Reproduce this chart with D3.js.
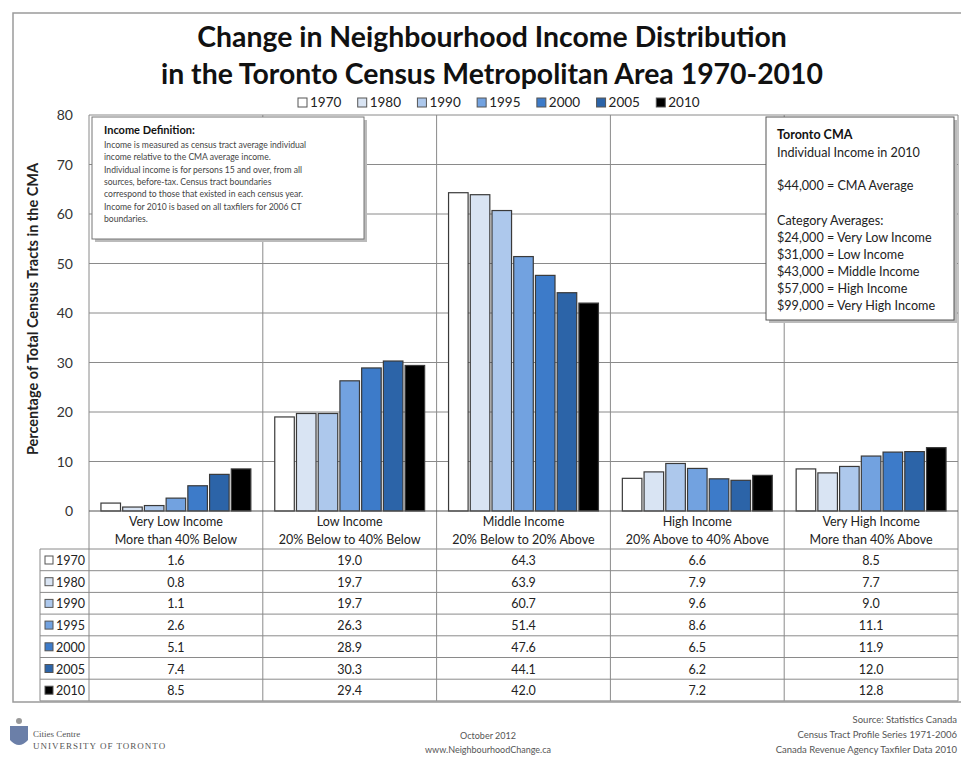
<!DOCTYPE html>
<html>
<head>
<meta charset="utf-8">
<title>Neighbourhood Income Distribution Toronto CMA</title>
<script src="https://d3js.org/d3.v7.min.js"></script>
<style>
  body { margin: 0; background: #fff; }
  svg { display: block; font-family: Lato, "Open Sans", sans-serif; }
  .grid line { stroke: #8a8a8a; stroke-width: 1; }
  .cell { font-size: 12.5px; fill: #222; }
</style>
</head>
<body>
<script>
// data
var years = ["1970", "1980", "1990", "1995", "2000", "2005", "2010"];
var categories = ["Very Low Income", "Low Income", "Middle Income", "High Income", "Very High Income"];
var subLabels = ["More than 40% Below", "20% Below to 40% Below", "20% Below to 20% Above",
                 "20% Above to 40% Above", "More than 40% Above"];
var v1970 = [1.6, 19.0, 64.3, 6.6, 8.5];
var v1980 = [0.8, 19.7, 63.9, 7.9, 7.7];
var v1990 = [1.1, 19.7, 60.7, 9.6, 9.0];
var v1995 = [2.6, 26.3, 51.4, 8.6, 11.1];
var v2000 = [5.1, 28.9, 47.6, 6.5, 11.9];
var v2005 = [7.4, 30.3, 44.1, 6.2, 12.0];
var v2010 = [8.5, 29.4, 42.0, 7.2, 12.8];
var yTicks = [0, 10, 20, 30, 40, 50, 60, 70, 80];
var colors = ["#ffffff", "#d9e4f3", "#adc8ec", "#72a2e0", "#3d7bc9", "#2c64a8", "#000000"];

var seriesVals = [v1970, v1980, v1990, v1995, v2000, v2005, v2010];
var series = years.map(function(y, i) { return {year: y, values: seriesVals[i], color: colors[i]}; });

var W = 961, H = 757;
var plot = {left: 89, right: 958, top: 115, bottom: 511};
var tableTop = 549, rowH = 21.7, tableLeft = 40;

var svg = d3.select("body").append("svg").attr("width", W).attr("height", H);

// frame
svg.append("rect").attr("x", 13).attr("y", 13).attr("width", W).attr("height", 689)
   .attr("fill", "none").attr("stroke", "#9a9a9a").attr("stroke-width", 1.5);

var x = d3.scaleBand().domain(categories).range([plot.left, plot.right]);
var xIn = d3.scaleBand().domain(years).range([0, x.bandwidth()]).paddingInner(0.1).paddingOuter(0.55);
var y = d3.scaleLinear().domain([0, 80]).range([plot.bottom, plot.top]);

// title
svg.append("text").attr("x", 492).attr("y", 47).attr("text-anchor", "middle")
   .attr("font-size", 28.4).attr("font-weight", "bold").attr("fill", "#111")
   .text("Change in Neighbourhood Income Distribution");
svg.append("text").attr("x", 492).attr("y", 84).attr("text-anchor", "middle")
   .attr("font-size", 28.4).attr("font-weight", "bold").attr("fill", "#111")
   .text("in the Toronto Census Metropolitan Area 1970-2010");

// legend
var lg = svg.append("g").attr("transform", "translate(298,107)");
var lgx = d3.scaleBand().domain(years).range([0, 418]);
lg.selectAll("g").data(series).join("g")
  .attr("transform", function(d) { return "translate(" + lgx(d.year) + ",0)"; })
  .each(function(d) {
    var g = d3.select(this);
    g.append("rect").attr("x", 0).attr("y", -9).attr("width", 9).attr("height", 9)
     .attr("fill", d.color).attr("stroke", "#555");
    g.append("text").attr("x", 12).attr("y", 0).attr("font-size", 13.5).attr("fill", "#222").text(d.year);
  });

// gridlines
var grid = svg.append("g").attr("class", "grid");
grid.selectAll("line.h").data(yTicks.slice(1)).join("line").attr("class", "h")
  .attr("x1", plot.left).attr("x2", plot.right)
  .attr("y1", function(d) { return y(d); }).attr("y2", function(d) { return y(d); });
var bounds = categories.map(function(c) { return x(c); }).concat([plot.right]);
grid.selectAll("line.v").data(bounds).join("line").attr("class", "v")
  .attr("x1", function(d) { return d; }).attr("x2", function(d) { return d; })
  .attr("y1", plot.top).attr("y2", tableTop + rowH * 7);

// y axis labels
svg.append("g").selectAll("text").data(yTicks).join("text")
  .attr("x", 73).attr("y", function(d) { return y(d) + 5; })
  .attr("text-anchor", "end").attr("font-size", 14).attr("fill", "#333")
  .text(function(d) { return d; });
svg.append("text").attr("transform", "translate(38,309) rotate(-90)")
  .attr("text-anchor", "middle").attr("font-size", 14.5).attr("font-weight", "bold").attr("fill", "#222")
  .text("Percentage of Total Census Tracts in the CMA");

// bars
svg.append("g").selectAll("g").data(series).join("g")
  .attr("fill", function(d) { return d.color; })
  .selectAll("rect").data(function(d) { return d.values.map(function(v, i) { return {cat: categories[i], year: d.year, v: v}; }); })
  .join("rect")
  .attr("x", function(d) { return x(d.cat) + xIn(d.year); })
  .attr("y", function(d) { return y(d.v); })
  .attr("width", xIn.bandwidth())
  .attr("height", function(d) { return y(0) - y(d.v); })
  .attr("stroke", "#3a3a3a").attr("stroke-width", 1.2);

// baseline
svg.append("line").attr("x1", plot.left).attr("x2", plot.right).attr("y1", plot.bottom).attr("y2", plot.bottom)
  .attr("stroke", "#555");

// category labels
var cl = svg.append("g").selectAll("g").data(categories).join("g")
  .attr("transform", function(d) { return "translate(" + (x(d) + x.bandwidth() / 2) + ",0)"; });
cl.append("text").attr("y", 526).attr("text-anchor", "middle").attr("class", "cell")
  .text(function(d) { return d; });
cl.append("text").attr("y", 544).attr("text-anchor", "middle").attr("class", "cell")
  .text(function(d, i) { return subLabels[i]; });

// data table
var tbl = svg.append("g");
tbl.selectAll("line").data(d3.range(8)).join("line")
  .attr("x1", tableLeft).attr("x2", plot.right)
  .attr("y1", function(d) { return tableTop + d * rowH; }).attr("y2", function(d) { return tableTop + d * rowH; })
  .attr("stroke", "#8a8a8a");
tbl.append("line").attr("x1", tableLeft).attr("x2", tableLeft).attr("y1", tableTop).attr("y2", tableTop + 7 * rowH)
  .attr("stroke", "#8a8a8a");

var rows = tbl.selectAll("g.row").data(series).join("g").attr("class", "row")
  .attr("transform", function(d, i) { return "translate(0," + (tableTop + i * rowH) + ")"; });
rows.append("rect").attr("x", 45).attr("y", 7).attr("width", 8).attr("height", 8)
  .attr("fill", function(d) { return d.color; }).attr("stroke", "#555");
rows.append("text").attr("x", 56).attr("y", 16).attr("class", "cell").text(function(d) { return d.year; });
rows.selectAll("text.val").data(function(d) { return d.values; }).join("text").attr("class", "cell val")
  .attr("x", function(d, i) { return x(categories[i]) + x.bandwidth() / 2; })
  .attr("y", 16).attr("text-anchor", "middle")
  .text(function(d) { return d.toFixed(1); });

// info box left
var ib = svg.append("g").attr("transform", "translate(92,117)");
ib.append("rect").attr("x", 3).attr("y", 3).attr("width", 272).attr("height", 122).attr("fill", "#bbb");
ib.append("rect").attr("width", 272).attr("height", 122).attr("fill", "#fff").attr("stroke", "#777");
ib.append("text").attr("x", 12).attr("y", 17).attr("font-size", 11).attr("font-weight", "bold").attr("fill", "#111")
  .text("Income Definition:");
var defLines = ["Income is measured as census tract average individual",
  "income relative to the CMA average income.",
  "Individual income is for persons 15 and over, from all",
  "sources, before-tax. Census tract boundaries",
  "correspond to those that existed in each census year.",
  "Income for 2010 is based on all taxfilers for 2006 CT",
  "boundaries."];
ib.selectAll("text.d").data(defLines).join("text").attr("class", "d")
  .attr("x", 12).attr("y", function(d, i) { return 31 + i * 12.3; })
  .attr("font-size", 8.6).attr("fill", "#444").text(function(d) { return d; });

// info box right
var rb = svg.append("g").attr("transform", "translate(766,117)");
rb.append("rect").attr("x", 3).attr("y", 3).attr("width", 188).attr("height", 203).attr("fill", "#bbb");
rb.append("rect").attr("width", 188).attr("height", 203).attr("fill", "#fff").attr("stroke", "#555");
rb.append("text").attr("x", 11).attr("y", 22).attr("font-size", 12.5).attr("font-weight", "bold").attr("fill", "#111")
  .text("Toronto CMA");
var cmaLines = [["Individual Income  in 2010", 40], ["$44,000 = CMA Average", 73],
  ["Category Averages:", 108], ["$24,000 = Very Low Income", 125], ["$31,000 = Low Income", 142],
  ["$43,000 = Middle Income", 159], ["$57,000 = High Income", 176], ["$99,000 = Very High Income", 193]];
rb.selectAll("text.c").data(cmaLines).join("text").attr("class", "c")
  .attr("x", 11).attr("y", function(d) { return d[1]; })
  .attr("font-size", 12.6).attr("fill", "#222").text(function(d) { return d[0]; });

// footer
var ft = svg.append("g").attr("fill", "#555");
ft.append("path").attr("d", "M10,726 h18 v14 q-9,10 -18,0 z").attr("fill", "#6b7fa8");
ft.append("circle").attr("cx", 19).attr("cy", 721).attr("r", 3).attr("fill", "#999");
ft.append("text").attr("x", 33).attr("y", 737).attr("font-size", 9).attr("font-family", "Liberation Serif").text("Cities Centre");
ft.append("text").attr("x", 33).attr("y", 749).attr("font-size", 9).attr("font-family", "Liberation Serif")
  .attr("letter-spacing", 1).text("UNIVERSITY OF TORONTO");
ft.append("text").attr("x", 488).attr("y", 739).attr("text-anchor", "middle").attr("font-size", 9).text("October 2012");
ft.append("text").attr("x", 488).attr("y", 753).attr("text-anchor", "middle").attr("font-size", 9).text("www.NeighbourhoodChange.ca");
var src = ft.append("g").attr("text-anchor", "end").attr("font-size", 9.5);
src.append("text").attr("x", 957).attr("y", 723).text("Source: Statistics Canada");
src.append("text").attr("x", 957).attr("y", 738).text("Census Tract Profile Series 1971-2006");
src.append("text").attr("x", 957).attr("y", 753).text("Canada Revenue Agency Taxfiler Data 2010");
</script>
</body>
</html>
